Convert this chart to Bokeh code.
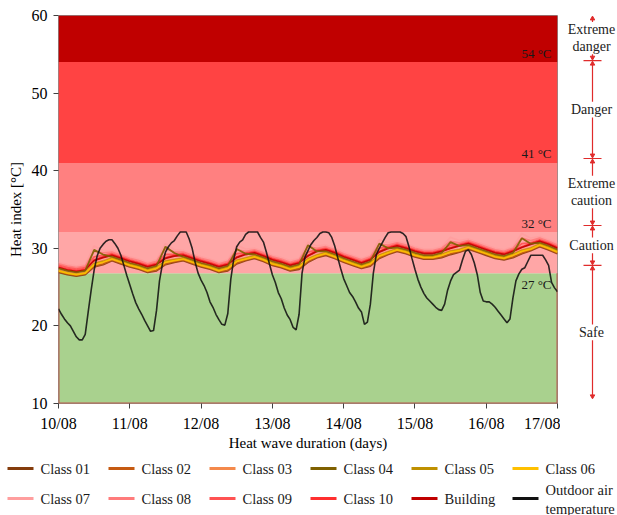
from bokeh.plotting import figure
from bokeh.models import Range1d, FixedTicker
from bokeh.layouts import column, row
from bokeh.embed import file_html
from bokeh.resources import INLINE
from bokeh.core.properties import value

FONT = "Liberation Serif"

# ---------------- data ----------------
tick_labels = ["10/08", "11/08", "12/08", "13/08", "14/08", "15/08", "16/08", "17/08"]
y_ticks = [10, 20, 30, 40, 50, 60]

band_edges = [10, 26.8, 32.1, 41, 54, 60]
band_colors = ["#a9d18e", "#ffa6a6", "#ff8080", "#ff4343", "#c00000"]
threshold_labels = ["27 °C", "32 °C", "41 °C", "54 °C"]
zone_names = [["Safe"], ["Caution"], ["Extreme", "caution"], ["Danger"], ["Extreme", "danger"]]

out_hours = list(range(169))
outdoor = [
    22.2, 21.5, 20.9, 20.4, 20.0, 19.3, 18.6, 18.2, 18.2, 18.9, 21.8, 24.6,
    27.2, 29.0, 30.0, 30.5, 30.9, 31.1, 31.1, 30.6, 30.0, 29.1, 27.8, 26.5,
    25.3, 24.1, 23.0, 22.2, 21.5, 20.7, 20.0, 19.3, 19.4, 22.0, 25.8, 28.0,
    29.5, 30.2, 30.7, 31.0, 31.6, 32.1, 32.1, 32.1, 31.2, 30.0, 28.2, 26.8,
    25.9, 25.2, 24.3, 23.1, 22.4, 21.5, 20.8, 20.2, 20.1, 21.6, 26.0, 28.6,
    30.2, 30.8, 31.1, 31.8, 32.1, 32.1, 32.1, 32.1, 31.4, 30.8, 29.5, 28.0,
    26.6, 25.6, 24.3, 23.5, 22.3, 21.4, 20.8, 19.8, 19.5, 21.5, 26.8, 28.9,
    29.7, 30.5, 31.0, 31.4, 31.9, 32.1, 32.1, 32.0, 31.4, 30.3, 28.8, 27.4,
    26.1, 25.2, 24.3, 23.8, 23.1, 22.3, 21.8, 20.2, 20.5, 22.8, 26.8, 29.2,
    30.0, 30.7, 31.4, 32.0, 32.1, 32.1, 32.1, 32.1, 31.9, 31.5, 30.2, 28.7,
    27.3, 26.0, 25.0, 24.2, 23.6, 23.2, 22.8, 22.4, 22.1, 22.0, 22.8, 24.6,
    25.8, 26.6, 26.9, 27.2, 28.5, 29.6, 29.8, 29.2, 28.1, 26.6, 24.3, 23.2,
    23.1, 23.1, 22.8, 22.4, 21.9, 21.4, 20.9, 20.4, 20.9, 23.6, 25.8, 26.7,
    27.3, 27.5, 28.3, 29.1, 29.1, 29.1, 29.1, 29.1, 28.5, 27.8, 25.6, 24.9,
    24.4,
]

hi_hours = list(range(0, 169, 3))
class_01 = [26.9, 26.6, 26.4, 26.6, 27.6, 27.9, 28.4, 28.0,
            27.6, 27.3, 26.9, 27.1, 27.9, 28.2, 28.4, 28.0,
            27.6, 27.3, 26.9, 27.1, 28.0, 28.4, 28.7, 28.3,
            27.8, 27.5, 27.1, 27.3, 28.2, 28.8, 29.1, 28.7,
            28.2, 27.8, 27.4, 27.7, 28.7, 29.2, 29.6, 29.3,
            28.9, 28.6, 28.6, 28.8, 29.2, 29.5, 29.9, 29.5,
            29.1, 28.7, 28.5, 28.8, 29.3, 29.7, 30.2, 29.8,
            29.3]
class_02 = [27.0, 26.7, 26.5, 26.7, 27.7, 28.0, 28.5, 28.1,
            27.7, 27.4, 27.0, 27.2, 28.0, 28.3, 28.5, 28.1,
            27.7, 27.4, 27.0, 27.2, 28.1, 28.5, 28.8, 28.4,
            27.9, 27.6, 27.2, 27.4, 28.3, 28.9, 29.2, 28.8,
            28.3, 27.9, 27.5, 27.8, 28.8, 29.3, 29.7, 29.4,
            29.0, 28.7, 28.7, 28.9, 29.3, 29.6, 30.0, 29.6,
            29.2, 28.8, 28.6, 28.9, 29.4, 29.8, 30.3, 29.9,
            29.4]
class_03 = [27.2, 26.9, 26.7, 26.9, 28.1, 28.4, 28.8, 28.4,
            28.0, 27.7, 27.3, 27.6, 28.4, 28.6, 28.8, 28.4,
            28.0, 27.7, 27.3, 27.6, 28.5, 28.8, 29.1, 28.7,
            28.2, 27.9, 27.5, 27.8, 28.7, 29.2, 29.5, 29.1,
            28.6, 28.2, 27.8, 28.2, 29.2, 29.6, 30.0, 29.7,
            29.3, 29.0, 29.0, 29.3, 29.7, 29.9, 30.3, 29.9,
            29.5, 29.1, 28.9, 29.3, 29.8, 30.1, 30.6, 30.2,
            29.7]
class_04 = [27.4, 27.1, 26.9, 27.1, 29.8, 29.2, 28.9, 28.5,
            28.1, 27.8, 27.4, 27.7, 30.2, 29.4, 28.9, 28.5,
            28.1, 27.8, 27.4, 27.7, 29.9, 29.3, 29.2, 28.8,
            28.3, 28.0, 27.6, 27.9, 30.4, 29.6, 29.6, 29.2,
            28.7, 28.3, 27.9, 28.3, 30.6, 30.0, 30.1, 29.8,
            29.4, 29.1, 29.1, 29.4, 30.8, 30.3, 30.4, 30.0,
            29.6, 29.2, 29.0, 29.4, 31.3, 30.6, 30.7, 30.3,
            29.8]
class_05 = [27.1, 26.8, 26.6, 26.8, 28.0, 28.3, 28.7, 28.3,
            27.9, 27.6, 27.2, 27.5, 28.3, 28.5, 28.7, 28.3,
            27.9, 27.6, 27.2, 27.5, 28.4, 28.7, 29.0, 28.6,
            28.1, 27.8, 27.4, 27.7, 28.6, 29.1, 29.4, 29.0,
            28.5, 28.1, 27.7, 28.1, 29.1, 29.5, 29.9, 29.6,
            29.2, 28.9, 28.9, 29.2, 29.6, 29.8, 30.2, 29.8,
            29.4, 29.0, 28.8, 29.2, 29.7, 30.0, 30.5, 30.1,
            29.6]
class_06 = [27.1, 26.8, 26.6, 26.8, 27.9, 28.2, 28.6, 28.2,
            27.8, 27.5, 27.1, 27.4, 28.2, 28.4, 28.6, 28.2,
            27.8, 27.5, 27.1, 27.4, 28.3, 28.6, 28.9, 28.5,
            28.0, 27.7, 27.3, 27.6, 28.5, 29.0, 29.3, 28.9,
            28.4, 28.0, 27.6, 28.0, 29.0, 29.4, 29.8, 29.5,
            29.1, 28.8, 28.8, 29.1, 29.5, 29.7, 30.1, 29.7,
            29.3, 28.9, 28.7, 29.1, 29.6, 29.9, 30.4, 30.0,
            29.5]
class_07 = [28.2, 27.9, 27.7, 27.9, 30.3, 29.7, 29.7, 29.3,
            28.9, 28.6, 28.2, 28.5, 30.6, 29.8, 29.7, 29.3,
            28.9, 28.6, 28.2, 28.5, 30.4, 29.9, 30.0, 29.6,
            29.1, 28.8, 28.4, 28.7, 30.8, 30.3, 30.4, 30.0,
            29.5, 29.1, 28.7, 29.1, 31.1, 30.7, 30.9, 30.6,
            30.2, 29.9, 29.9, 30.2, 31.4, 31.0, 31.2, 30.8,
            30.4, 30.0, 29.8, 30.2, 31.9, 31.3, 31.5, 31.1,
            30.6]
class_08 = [28.0, 27.7, 27.5, 27.7, 29.6, 29.4, 29.5, 29.1,
            28.7, 28.4, 28.0, 28.3, 30.0, 29.5, 29.5, 29.1,
            28.7, 28.4, 28.0, 28.3, 29.8, 29.6, 29.8, 29.4,
            28.9, 28.6, 28.2, 28.5, 30.2, 30.0, 30.2, 29.8,
            29.3, 28.9, 28.5, 28.9, 30.5, 30.4, 30.7, 30.4,
            30.0, 29.7, 29.7, 30.0, 30.9, 30.7, 31.0, 30.6,
            30.2, 29.8, 29.6, 30.0, 31.3, 31.0, 31.3, 30.9,
            30.4]
class_09 = [27.8, 27.5, 27.3, 27.5, 28.9, 29.1, 29.3, 28.9,
            28.5, 28.2, 27.8, 28.1, 29.2, 29.2, 29.3, 28.9,
            28.5, 28.2, 27.8, 28.1, 29.3, 29.4, 29.6, 29.2,
            28.7, 28.4, 28.0, 28.3, 29.5, 29.8, 30.0, 29.6,
            29.1, 28.7, 28.3, 28.7, 30.0, 30.2, 30.5, 30.2,
            29.8, 29.5, 29.5, 29.8, 30.4, 30.5, 30.8, 30.4,
            30.0, 29.6, 29.4, 29.8, 30.6, 30.7, 31.1, 30.7,
            30.2]
class_10 = [27.6, 27.3, 27.1, 27.3, 28.5, 28.9, 29.2, 28.8,
            28.4, 28.1, 27.7, 28.0, 28.8, 29.1, 29.2, 28.8,
            28.4, 28.1, 27.7, 28.0, 28.9, 29.3, 29.5, 29.1,
            28.6, 28.3, 27.9, 28.2, 29.1, 29.7, 29.9, 29.5,
            29.0, 28.6, 28.2, 28.6, 29.6, 30.1, 30.4, 30.1,
            29.7, 29.4, 29.4, 29.7, 30.1, 30.4, 30.7, 30.3,
            29.9, 29.5, 29.3, 29.7, 30.2, 30.6, 31.0, 30.6,
            30.1]
building = [27.5, 27.2, 27.0, 27.2, 28.4, 28.8, 29.1, 28.7,
            28.3, 28.0, 27.6, 27.9, 28.7, 29.0, 29.1, 28.7,
            28.3, 28.0, 27.6, 27.9, 28.8, 29.2, 29.4, 29.0,
            28.5, 28.2, 27.8, 28.1, 29.0, 29.6, 29.8, 29.4,
            28.9, 28.5, 28.1, 28.5, 29.5, 30.0, 30.3, 30.0,
            29.6, 29.3, 29.3, 29.6, 30.0, 30.3, 30.6, 30.2,
            29.8, 29.4, 29.2, 29.6, 30.1, 30.5, 30.9, 30.5,
            30.0]

series_names = ["Class 01", "Class 02", "Class 03", "Class 04", "Class 05", "Class 06",
                "Class 07", "Class 08", "Class 09", "Class 10", "Building"]
series_values = [class_01, class_02, class_03, class_04, class_05, class_06,
                 class_07, class_08, class_09, class_10, building]
series_colors = ["#843c0c", "#c55a11", "#f4894b", "#7f6000", "#bf9000", "#ffc000",
                 "#ff9e9e", "#ff7b7b", "#ff5252", "#ff2f2f", "#c00000"]
outdoor_name = "Outdoor air temperature"
outdoor_color = "#111111"

# ---------------- main chart ----------------
x_min, x_max = 0, len(tick_labels) - 1
p = figure(width=560, height=453, x_range=Range1d(x_min, x_max),
           y_range=Range1d(band_edges[0], band_edges[-1]),
           output_backend="svg", toolbar_location=None,
           min_border_left=58, min_border_right=3, min_border_top=15, min_border_bottom=50)
p.xgrid.visible = False
p.ygrid.visible = False
p.outline_line_color = "#8c8c8c"
p.background_fill_color = "white"

p.quad(left=x_min, right=x_max, bottom=band_edges[:-1], top=band_edges[1:],
       fill_color=band_colors, line_color=None)
# reddish edge around the "safe" zone (left, bottom and right sides)
p.line([x_min, x_min, x_max, x_max], [band_edges[1], band_edges[0], band_edges[0], band_edges[1]],
       line_color="#b9574f", line_width=2)

hi_x = [h / 24 for h in hi_hours]
draw_order = [6, 7, 8, 9, 10, 0, 1, 2, 3, 4, 5]
for i in draw_order:
    p.line(hi_x, series_values[i], line_color=series_colors[i], line_width=1.8, line_alpha=0.9)
p.line([h / 24 for h in out_hours], outdoor, line_color=outdoor_color, line_width=1.6, line_alpha=0.88)

p.text(x=[x_max] * 4, y=band_edges[1:5], text=threshold_labels,
       x_offset=-6, y_offset=[11, -9, -9, -9],
       text_align="right", text_baseline="middle",
       text_font=value(FONT), text_font_size="13px", text_color="#1a1a1a")

p.xaxis.ticker = FixedTicker(ticks=list(range(len(tick_labels))))
p.xaxis.major_label_overrides = {i: t for i, t in enumerate(tick_labels)}
p.yaxis.ticker = FixedTicker(ticks=y_ticks)
for ax in (p.xaxis, p.yaxis):
    ax.minor_tick_line_color = None
    ax.major_tick_in = 0
    ax.major_tick_out = 5
    ax.major_tick_line_color = "#404040"
    ax.axis_line_color = None
    ax.major_label_text_font = FONT
    ax.major_label_text_font_size = "16px"
    ax.major_label_text_color = "black"
    ax.axis_label_text_font = FONT
    ax.axis_label_text_font_size = "15px"
    ax.axis_label_text_font_style = "normal"
    ax.axis_label_text_color = "black"
p.xaxis.axis_label = "Heat wave duration (days)"
p.yaxis.axis_label = "Heat index [°C]"
p.xaxis.major_label_standoff = 6
p.xaxis.axis_label_standoff = 0
p.yaxis.major_label_standoff = 6
p.yaxis.axis_label_standoff = 5

# ---------------- right-hand scale ----------------
side_bottom = 8.45
arrow_bottom = 9.0
s = figure(width=57, height=453, x_range=Range1d(0, 57), y_range=Range1d(side_bottom, band_edges[-1]),
           x_axis_type=None, y_axis_type=None, output_backend="svg", toolbar_location=None,
           min_border_left=0, min_border_right=0, min_border_top=15, min_border_bottom=38)
s.grid.visible = False
s.outline_line_color = None
line_x = 32
text_x = 31
red = "#e02b2b"
pad = 0.42
zone_bottoms = [arrow_bottom] + band_edges[1:-1]
zone_tops = band_edges[1:]
seg_y0, seg_y1, up_y, down_y, txt_y, txt = [], [], [], [], [], []
for b, t, names in zip(zone_bottoms, zone_tops, zone_names):
    c = (b + t) / 2
    gap = 1.05 if len(names) == 1 else 2.15
    seg_y0 += [b + pad, c + gap]
    seg_y1 += [c - gap, t - pad]
    up_y.append(t - pad)
    down_y.append(b + pad)
    if len(names) == 1:
        txt_y.append(c)
        txt.append(names[0])
    else:
        txt_y += [c + 1.1, c - 1.1]
        txt += names
s.segment(x0=line_x, x1=line_x, y0=seg_y0, y1=seg_y1, line_color=red, line_width=1.2)
s.scatter(x=line_x, y=up_y, marker="triangle", size=4.5, fill_color=red, line_color=red)
s.scatter(x=line_x, y=down_y, marker="inverted_triangle", size=4.5, fill_color=red, line_color=red)
s.segment(x0=line_x - 9, x1=line_x + 9, y0=band_edges[1:-1], y1=band_edges[1:-1],
          line_color=red, line_width=1.2)
s.text(x=text_x, y=txt_y, text=txt, text_align="center", text_baseline="middle",
       text_font=value(FONT), text_font_size="14px", text_color="#222222")

# ---------------- legend ----------------
lg = figure(width=617, height=62, x_range=Range1d(0, 617), y_range=Range1d(62, 0),
            x_axis_type=None, y_axis_type=None, output_backend="svg", toolbar_location=None,
            min_border=0)
lg.grid.visible = False
lg.outline_line_color = None
leg_names = series_names + [outdoor_name]
leg_colors = series_colors + [outdoor_color]
col_pitch, col_start, row_y = 101, 7, [15, 45]
lx0, lx1, ly, tx, ty, tt = [], [], [], [], [], []
for k, (name, col) in enumerate(zip(leg_names, leg_colors)):
    r, cidx = divmod(k, 6)
    x0 = col_start + col_pitch * cidx
    lx0.append(x0)
    lx1.append(x0 + 26)
    ly.append(row_y[r])
    if name == outdoor_name:
        tx += [x0 + 33, x0 + 33]
        ty += [row_y[r] - 9, row_y[r] + 10]
        tt += ["Outdoor air", "temperature"]
    else:
        tx.append(x0 + 33)
        ty.append(row_y[r])
        tt.append(name)
lg.segment(x0=lx0, x1=lx1, y0=ly, y1=ly, line_color=leg_colors, line_width=3)
lg.text(x=tx, y=ty, text=tt, text_align="left", text_baseline="middle",
        text_font=value(FONT), text_font_size="14.5px", text_color="#1a1a1a")

layout = column(row(p, s), lg)
open("out.html", "w").write(file_html(layout, INLINE))
